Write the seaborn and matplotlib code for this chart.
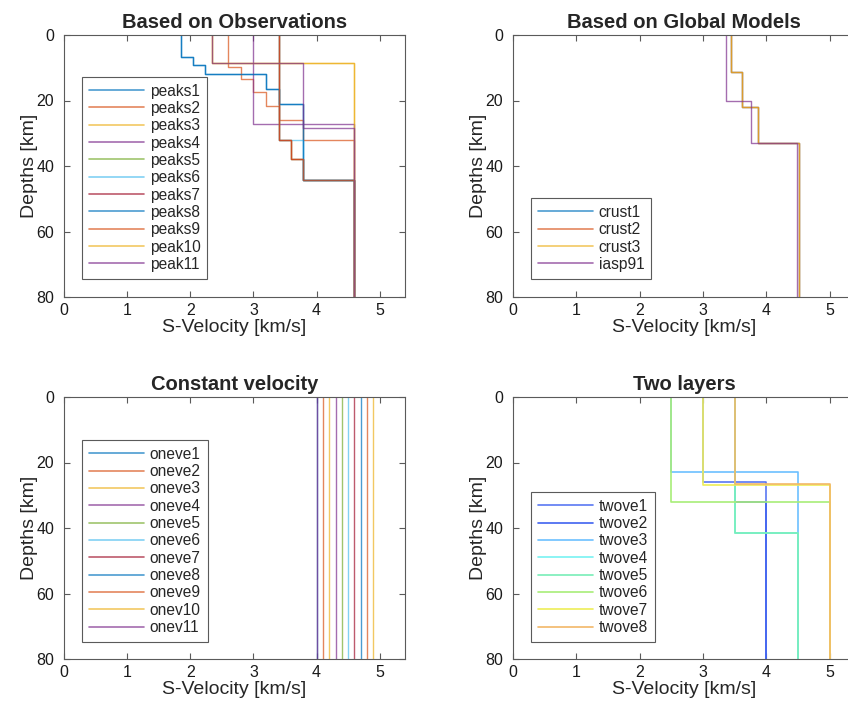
import numpy as np
import pandas as pd
import matplotlib
matplotlib.use("Agg")
import matplotlib.pyplot as plt
from matplotlib.lines import Line2D
import seaborn as sns

sns.set_theme(style="white")
plt.rcParams['font.family'] = ['Liberation Sans', 'DejaVu Sans']

# ---------------- data ----------------
# each model: layer velocities (km/s) and interface depths (km)
obs_names = ["peaks1", "peaks2", "peaks3", "peaks4", "peaks5", "peaks6",
             "peaks7", "peaks8", "peaks9", "peak10", "peak11"]
obs_v = [
    [1.85, 2.04, 2.24, 3.20, 3.40, 3.79, 4.59],
    [2.60, 2.80, 3.00, 3.20, 3.40, 3.79, 4.59],
    [2.34, 4.59],
    [3.00, 4.59],
    [3.40, 3.60, 3.79, 4.59],
    [3.40, 3.79, 4.59],
    [3.40, 3.60, 3.79, 4.59],
    [1.85, 2.04, 2.24, 3.20, 3.40, 3.79, 4.59],
    [3.40, 3.60, 3.79, 4.59],
    [2.34, 4.59],
    [2.34, 3.79, 4.59],
]
obs_z = [
    [6.8, 9.2, 12.0, 16.4, 21.0, 44.2],
    [9.7, 13.3, 17.3, 21.6, 26.1, 32.0],
    [8.5],
    [27.1],
    [32.0, 37.8, 44.2],
    [32.0, 44.2],
    [32.0, 37.8, 44.2],
    [6.8, 9.2, 12.0, 16.4, 21.0, 44.2],
    [32.0, 37.8, 44.2],
    [8.5],
    [8.5, 28.5],
]

glob_names = ["crust1", "crust2", "crust3", "iasp91"]
glob_v = [
    [3.44, 3.62, 3.87, 4.52],
    [3.44, 3.62, 3.87, 4.52],
    [3.44, 3.62, 3.87, 4.52],
    [3.37, 3.75, 4.48],
]
glob_z = [
    [11.3, 22.1, 32.9],
    [11.3, 22.1, 32.9],
    [11.3, 22.1, 32.9],
    [20.2, 32.9],
]

one_names = ["oneve1", "oneve2", "oneve3", "oneve4", "oneve5", "oneve6",
             "oneve7", "oneve8", "oneve9", "onev10", "onev11"]
one_v = [[4.0], [4.1], [4.2], [4.3], [4.4], [4.5], [4.6], [4.7], [4.8], [4.9], [4.0]]
one_z = [[] for _ in one_names]

two_names = ["twove1", "twove2", "twove3", "twove4", "twove5", "twove6", "twove7", "twove8"]
two_v = [
    [3.0, 4.0],
    [3.5, 4.0],
    [2.5, 4.5],
    [3.5, 4.5],
    [3.5, 4.5],
    [2.5, 5.0],
    [3.0, 5.0],
    [3.5, 5.0],
]
two_z = [
    [26.1],
    [32.2],
    [22.9],
    [41.4],
    [41.4],
    [32.2],
    [26.8],
    [26.5],
]

matlab_cols = ["#0072BD", "#D95319", "#EDB120", "#7E2F8E", "#77AC30",
               "#4DBEEE", "#A2142F"]
jet_cols = ["#5A78F2", "#3F62F0", "#6CC0FF", "#78F2F2", "#78EEB8",
            "#A8EE78", "#EEEE58", "#F2B868"]

# ---------------- helpers ----------------
ZMAX = 80


def build(names, vs, zs):
    rows = []
    for name, v, z in zip(names, vs, zs):
        tops = [0] + list(z)
        bots = list(z) + [ZMAX]
        k = 0
        for vi, t, b in zip(v, tops, bots):
            rows.append(dict(model=name, v=vi, depth=t, k=k)); k += 1
            rows.append(dict(model=name, v=vi, depth=b, k=k)); k += 1
    return pd.DataFrame(rows)


SPINE = "#5a5a5a"


def panel(ax, names, vs, zs, colors, title, leg_anchor, alpha, lw=1.0):
    df = build(names, vs, zs)
    pal = {n: colors[i % len(colors)] for i, n in enumerate(names)}
    sns.lineplot(data=df, x="v", y="depth", hue="model", hue_order=names,
                 palette=pal, sort=False, estimator=None, ax=ax,
                 lw=lw, alpha=alpha, legend=False)
    ax.set_xlim(0, 5.4)
    ax.set_ylim(80, 0)
    ax.set_xticks([0, 1, 2, 3, 4, 5])
    ax.set_yticks([0, 20, 40, 60, 80])
    ax.set_xlabel("S-Velocity [km/s]", fontsize=14, labelpad=1)
    ax.set_ylabel("Depths [km]", fontsize=14, labelpad=-1)
    ax.set_title(title, fontsize=14.5, fontweight="bold", pad=5)
    ax.tick_params(direction="in", top=True, right=True, bottom=True, left=True,
                   length=4, width=0.8, color=SPINE, labelsize=11.5,
                   labelcolor="#1a1a1a")
    ax.tick_params(axis="x", pad=4)
    ax.tick_params(axis="y", pad=7)
    for s in ax.spines.values():
        s.set_color(SPINE)
        s.set_linewidth(0.8)
        s.set_visible(True)
    handles = [Line2D([], [], color=pal[n], lw=1.2, alpha=alpha) for n in names]
    leg = ax.legend(handles, names, loc="lower left", bbox_to_anchor=leg_anchor,
                    fontsize=11.2, frameon=True, fancybox=False, framealpha=1,
                    edgecolor=SPINE, handlelength=3.5, handletextpad=0.4,
                    labelspacing=0.15, borderpad=0.45, borderaxespad=0)
    leg.get_frame().set_linewidth(0.8)


# ---------------- figure ----------------
W, H = 848, 707
fig = plt.figure(figsize=(W / 100, H / 100), dpi=100)


def pos(x0, y0, x1, y1):
    return [x0 / W, 1 - y1 / H, (x1 - x0) / W, (y1 - y0) / H]


ax1 = fig.add_axes(pos(64, 35, 405, 297))
ax2 = fig.add_axes(pos(513, 35, 855, 297))
ax3 = fig.add_axes(pos(64, 397, 405, 659))
ax4 = fig.add_axes(pos(513, 397, 855, 659))

panel(ax1, obs_names, obs_v, obs_z, matlab_cols, "Based on Observations", (0.053, 0.069), 0.7)
panel(ax2, glob_names, glob_v, glob_z, matlab_cols, "Based on Global Models", (0.053, 0.069), 0.7)
panel(ax3, one_names, one_v, one_z, matlab_cols, "Constant velocity", (0.053, 0.065), 0.7)
panel(ax4, two_names, two_v, two_z, jet_cols, "Two layers", (0.053, 0.065), 1.0, lw=1.2)

fig.savefig("out.png", dpi=100)
